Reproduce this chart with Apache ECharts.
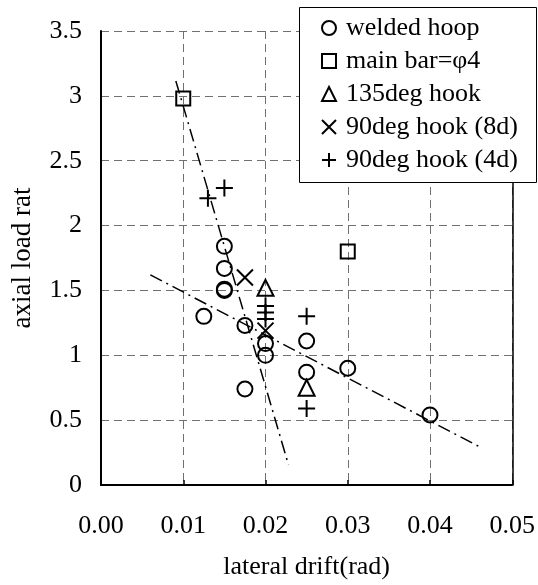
<!DOCTYPE html>
<html>
<head>
<meta charset="utf-8">
<script src="https://cdn.jsdelivr.net/npm/echarts@6/dist/echarts.min.js"></script>
<style>
  html, body { margin: 0; padding: 0; background: #fff; }
  #main { width: 538px; height: 585px; }
</style>
</head>
<body>
<div id="main"></div>
<script>
// data
var weldedX = [0.015, 0.015, 0.015, 0.015, 0.0125, 0.0175, 0.02, 0.02, 0.0175, 0.025, 0.025, 0.03, 0.04];
var weldedY = [1.84, 1.67, 1.5, 1.51, 1.3, 1.23, 1.09, 1.0, 0.74, 1.11, 0.87, 0.9, 0.54];
var mainBarX = [0.01, 0.03];
var mainBarY = [2.98, 1.8];
var hook135X = [0.02, 0.025];
var hook135Y = [1.52, 0.75];
var hook8dX = [0.0175, 0.02];
var hook8dY = [1.6, 1.19];
var hook4dX = [0.013, 0.015, 0.02, 0.02, 0.02, 0.025, 0.025];
var hook4dY = [2.21, 2.29, 1.38, 1.33, 1.28, 1.3, 0.59];
// the two dash-dot trend lines (end points)
var trendSteepX = [0.0091, 0.0228];
var trendSteepY = [3.115, 0.154];
var trendFlatX = [0.006, 0.046];
var trendFlatY = [1.62, 0.295];

var seriesNames = ["welded hoop", "main bar=φ4", "135deg hook", "90deg hook (8d)", "90deg hook (4d)"];
var xTicks = [0, 0.01, 0.02, 0.03, 0.04, 0.05];
var yTicks = [0, 0.5, 1, 1.5, 2, 2.5, 3, 3.5];

function pairs(xs, ys) {
  return xs.map(function (x, i) { return [x, ys[i]]; });
}

var FONT = "'Liberation Serif', 'Times New Roman', serif";
var CROSS = "path://M0,0L16,16M16,0L0,16";
var PLUS = "path://M8,0L8,16M0,8L16,8";
// square / triangle as paths so the legend keeps them square
var SQUARE = "path://M0,0L10,0L10,10L0,10Z";
var TRI = "path://M5,0L10,10L0,10Z";

function markSeries(name, data, symbol, size) {
  return {
    name: name,
    type: "scatter",
    data: data,
    symbol: symbol,
    symbolSize: size,
    itemStyle: {
      color: symbol === CROSS || symbol === PLUS ? "#000" : "rgba(0,0,0,0)",
      borderColor: "#000",
      borderWidth: 2,
      opacity: 1,
    },
    emphasis: { disabled: true },
    z: 5,
  };
}

function trendSeries(xs, ys) {
  return {
    type: "line",
    data: pairs(xs, ys),
    symbol: "none",
    silent: true,
    lineStyle: { color: "#000", width: 1.5, type: [13, 5, 2, 5] },
    z: 3,
  };
}

var myChart = echarts.init(document.getElementById("main"));

var option = {
  animation: false,
  textStyle: { fontFamily: FONT },
  grid: { left: 101, right: 25, top: 31, bottom: 100 },
  // legend frame
  graphic: [
    {
      type: "rect",
      left: 299,
      top: 7,
      shape: { width: 237, height: 175 },
      style: { fill: "#fff", stroke: "#000", lineWidth: 1 },
      z: 9,
      silent: true,
    },
  ],
  legend: {
    data: seriesNames,
    orient: "vertical",
    left: 299,
    top: 7,
    itemWidth: 24,
    itemHeight: 14,
    itemGap: 7,
    padding: [8, 6, 7, 22],
    textStyle: { fontFamily: FONT, fontSize: 26, color: "#000", lineHeight: 26 },
    z: 10,
  },
  xAxis: {
    type: "value",
    min: xTicks[0],
    max: xTicks[xTicks.length - 1],
    interval: 0.01,
    name: "lateral drift(rad)",
    nameLocation: "middle",
    nameGap: 69,
    nameTextStyle: { fontFamily: FONT, fontSize: 26, color: "#000" },
    axisLine: { lineStyle: { color: "#000", width: 2 } },
    axisTick: { inside: true, length: 5, lineStyle: { color: "#000", width: 1.5 } },
    axisLabel: {
      margin: 28,
      fontFamily: FONT,
      fontSize: 26,
      color: "#000",
      formatter: function (v) { return v.toFixed(2); },
    },
    splitLine: { show: true, lineStyle: { color: "#707070", width: 1, type: [8, 5] } },
  },
  yAxis: [
    {
      type: "value",
      min: yTicks[0],
      max: yTicks[yTicks.length - 1],
      interval: 0.5,
      name: "axial load rat",
      nameLocation: "middle",
      nameGap: 65,
      nameTextStyle: { fontFamily: FONT, fontSize: 27, color: "#000" },
      axisLine: { show: true, lineStyle: { color: "#000", width: 2 } },
      axisTick: { show: false },
      axisLabel: { margin: 19, fontFamily: FONT, fontSize: 26, color: "#000" },
      splitLine: { show: true, lineStyle: { color: "#707070", width: 1, type: [8, 5] } },
    },
    {
      // just the right frame line
      type: "value",
      position: "right",
      min: yTicks[0],
      max: yTicks[yTicks.length - 1],
      interval: 0.5,
      axisLine: { show: true, lineStyle: { color: "#000", width: 1.5 } },
      axisTick: { show: false },
      axisLabel: { show: false },
      splitLine: { show: false },
    },
  ],
  series: [
    trendSeries(trendSteepX, trendSteepY),
    trendSeries(trendFlatX, trendFlatY),
    markSeries(seriesNames[0], pairs(weldedX, weldedY), "circle", 15),
    markSeries(seriesNames[1], pairs(mainBarX, mainBarY), SQUARE, 14),
    markSeries(seriesNames[2], pairs(hook135X, hook135Y), TRI, 16),
    markSeries(seriesNames[3], pairs(hook8dX, hook8dY), CROSS, 16),
    markSeries(seriesNames[4], pairs(hook4dX, hook4dY), PLUS, 17),
  ],
};

myChart.setOption(option);
</script>
</body>
</html>
